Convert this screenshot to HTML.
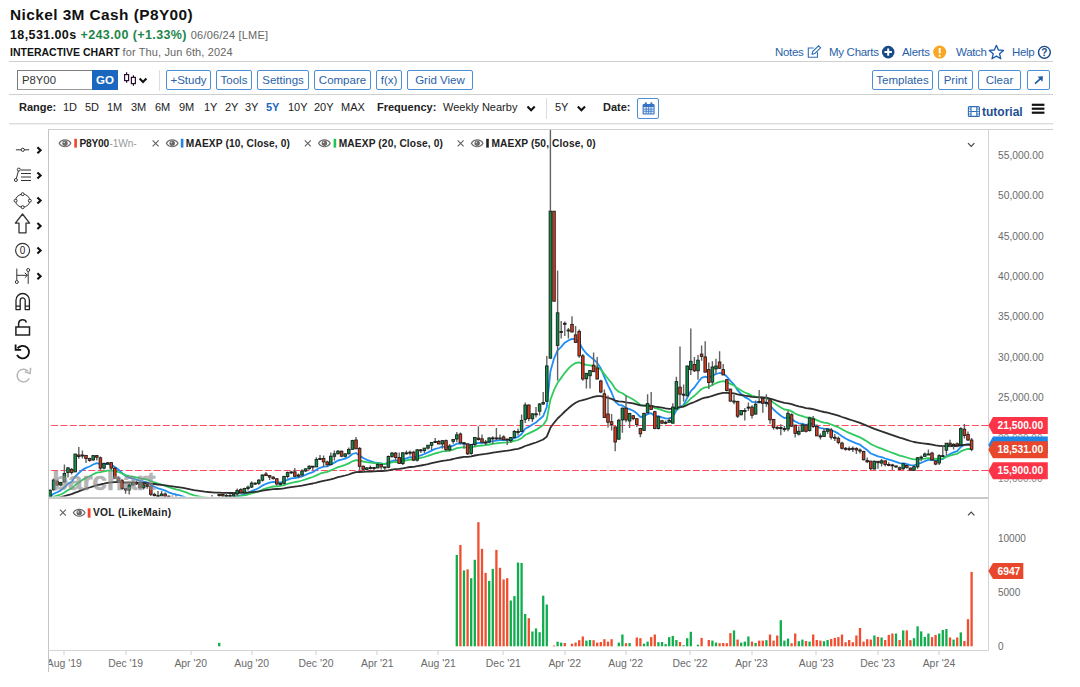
<!DOCTYPE html>
<html>
<head>
<meta charset="utf-8">
<title>Nickel 3M Cash (P8Y00)</title>
<style>
html,body{margin:0;padding:0;background:#fff;}
body{width:1080px;height:687px;position:relative;overflow:hidden;font-family:"Liberation Sans",sans-serif;color:#222;}
.abs{position:absolute;white-space:nowrap;}
.hr{position:absolute;left:9px;width:1044px;height:1px;background:#d0d0d0;}
.btn{position:absolute;top:70px;height:18px;line-height:19px;border:1px solid #4d8fd6;border-radius:2px;color:#2a62a8;font-size:11.5px;text-align:center;box-sizing:content-box;background:#fff;}
.rng{position:absolute;top:100px;font-size:11px;color:#222;line-height:14px;}
.lnk{position:absolute;top:45px;letter-spacing:-0.3px;font-size:11.5px;color:#2a62a8;line-height:14px;}
</style>
</head>
<body>
<!-- HEADER -->
<div class="abs" style="left:10px;top:6px;font-size:15.4px;font-weight:bold;line-height:18px;color:#111;letter-spacing:0.43px;">Nickel 3M Cash (P8Y00)</div>
<div class="abs" style="left:10px;top:27.5px;font-size:12.5px;font-weight:bold;line-height:14px;color:#111;letter-spacing:0.4px;">18,531.00s <span style="color:#1d8649;">+243.00 (+1.33%)</span> <span style="font-weight:normal;font-size:11px;color:#666;letter-spacing:0.2px;">06/06/24 [LME]</span></div>
<div class="abs" style="left:10px;top:45px;font-size:10.5px;font-weight:bold;line-height:14px;color:#111;">INTERACTIVE CHART <span style="font-weight:normal;color:#666;font-size:11px;letter-spacing:0.12px;">for Thu, Jun 6th, 2024</span></div>

<div class="hr" style="top:61px;"></div>
<div class="hr" style="top:94px;"></div>
<div class="hr" style="top:123px;height:1px;background:#dcdcdc;"></div><div class="hr" style="top:124px;height:1px;background:#f1f1f1;"></div>

<!-- symbol box -->
<div class="abs" style="left:17px;top:70px;width:75px;height:18px;border:1px solid #9a9a9a;border-top-color:#7d7d7d;border-left-color:#7d7d7d;box-sizing:content-box;background:#fff;"></div>
<div class="abs" style="left:22px;top:73.3px;font-size:11.3px;line-height:15px;color:#333;">P8Y00</div>
<div class="abs" style="left:92px;top:70px;width:26px;height:20px;background:#1b66bf;color:#fff;font-weight:bold;font-size:11.5px;line-height:20px;text-align:center;">GO</div>

<!-- buttons -->
<div class="btn" style="left:166px;width:43px;">+Study</div>
<div class="btn" style="left:216px;width:34px;">Tools</div>
<div class="btn" style="left:257px;width:50px;">Settings</div>
<div class="btn" style="left:314px;width:55px;">Compare</div>
<div class="btn" style="left:376px;width:24px;">f(x)</div>
<div class="btn" style="left:407px;width:64px;">Grid View</div>
<div class="btn" style="left:872px;width:59px;">Templates</div>
<div class="btn" style="left:938px;width:33px;">Print</div>
<div class="btn" style="left:978px;width:41px;">Clear</div>
<div class="btn" style="left:1027px;width:21px;"></div>


<!-- range row -->
<div class="rng" style="left:19px;font-weight:bold;">Range:</div>
<div class="rng" style="left:63px;">1D</div>
<div class="rng" style="left:85px;">5D</div>
<div class="rng" style="left:107px;">1M</div>
<div class="rng" style="left:131px;">3M</div>
<div class="rng" style="left:155px;">6M</div>
<div class="rng" style="left:179px;">9M</div>
<div class="rng" style="left:204px;">1Y</div>
<div class="rng" style="left:225px;">2Y</div>
<div class="rng" style="left:245px;">3Y</div>
<div class="rng" style="left:266px;color:#1b66bf;font-weight:bold;">5Y</div>
<div class="rng" style="left:288px;">10Y</div>
<div class="rng" style="left:314px;">20Y</div>
<div class="rng" style="left:341px;">MAX</div>
<div class="rng" style="left:377px;font-weight:bold;">Frequency:</div>
<div class="rng" style="left:443px;">Weekly Nearby</div>
<div class="rng" style="left:555px;">5Y</div>
<div class="rng" style="left:603px;font-weight:bold;">Date:</div>
<div class="abs" style="left:546px;top:98px;width:1px;height:21px;background:#ddd;"></div>
<div class="abs" style="left:159px;top:70px;width:1px;height:21px;background:#ddd;"></div>
<div class="abs" style="left:637px;top:98px;width:20px;height:19px;border:1px solid #4d8fd6;border-radius:2px;"></div>
<div class="abs" style="left:982px;top:105px;font-size:12px;font-weight:bold;color:#1d4f91;line-height:14px;">tutorial</div>

<!-- top-right links -->
<div class="lnk" style="left:775px;">Notes</div>
<div class="lnk" style="left:829px;">My Charts</div>
<div class="lnk" style="left:902px;">Alerts</div>
<div class="lnk" style="left:956px;">Watch</div>
<div class="lnk" style="left:1012px;">Help</div>

<!-- CHARTSVG-START -->
<svg class="abs" style="left:0;top:0;" width="1080" height="687" viewBox="0 0 1080 687" font-family="Liberation Sans, sans-serif">
<defs><clipPath id="cm"><rect x="49" y="130" width="939" height="366.5"/></clipPath><clipPath id="cv"><rect x="49" y="499" width="939" height="151"/></clipPath></defs>
<g shape-rendering="crispEdges">
<rect x="48" y="129" width="1005" height="1" fill="#cfcfcf"/>
<rect x="48" y="129" width="1" height="543" fill="#c4c4c4"/>
<rect x="988" y="129" width="1" height="522" fill="#d4d4d4"/>
<rect x="48" y="496.5" width="940" height="2.5" fill="#c9c9c9"/>
<rect x="48" y="650" width="941" height="1" fill="#d4d4d4"/>
</g>
<g clip-path="url(#cm)">
<line x1="51.2" y1="425.5" x2="988" y2="425.5" stroke="#ff4f5e" stroke-width="1.15" stroke-dasharray="6.9 2.4"/>
<line x1="51.2" y1="470.5" x2="988" y2="470.5" stroke="#ff4f5e" stroke-width="1.15" stroke-dasharray="6.9 2.4"/>
<path d="M50.0 496.9 L53.6 493.8 L57.2 492.2 L60.8 490.4 L64.4 487.3 L68.0 483.8 L71.6 481.7 L75.2 476.7 L78.8 473.0 L82.4 469.9 L86.0 467.9 L89.6 466.5 L93.2 464.5 L96.8 463.2 L100.4 464.1 L104.0 464.0 L107.6 463.8 L111.2 464.5 L114.8 467.0 L118.4 469.5 L122.0 472.9 L125.6 476.0 L129.2 477.7 L132.8 478.5 L136.4 479.5 L140.0 481.0 L143.6 481.7 L147.2 482.5 L150.8 484.7 L154.4 486.7 L158.0 488.4 L161.6 489.4 L165.2 490.6 L168.8 492.3 L172.4 493.7 L176.0 494.5 L179.6 495.4 L183.2 496.5 L186.8 498.0 L190.4 500.0 L194.0 501.3 L197.6 501.8 L201.2 502.0 L204.8 502.0 L208.4 502.0 L212.0 501.8 L215.6 501.3 L219.2 500.1 L222.8 499.3 L226.4 498.6 L230.0 498.1 L233.6 497.4 L237.2 496.1 L240.8 495.4 L244.4 494.2 L248.0 492.9 L251.6 491.1 L255.2 489.7 L258.8 488.0 L262.4 485.6 L266.0 483.8 L269.6 482.6 L273.2 481.9 L276.8 482.3 L280.4 482.5 L284.0 481.4 L287.6 479.8 L291.2 478.4 L294.8 478.0 L298.4 477.4 L302.0 476.3 L305.6 474.9 L309.2 473.3 L312.8 472.2 L316.4 469.8 L320.0 467.8 L323.6 466.7 L327.2 466.4 L330.8 464.5 L334.4 462.6 L338.0 460.5 L341.6 459.7 L345.2 458.6 L348.8 457.0 L352.4 454.0 L356.0 453.0 L359.6 455.4 L363.2 458.0 L366.8 459.8 L370.4 461.2 L374.0 462.4 L377.6 462.8 L381.2 463.5 L384.8 464.2 L388.4 462.8 L392.0 461.0 L395.6 460.4 L399.2 461.0 L402.8 459.5 L406.4 458.3 L410.0 457.2 L413.6 457.7 L417.2 456.3 L420.8 455.3 L424.4 454.0 L428.0 452.4 L431.6 450.6 L435.2 448.9 L438.8 448.0 L442.4 446.7 L446.0 447.2 L449.6 447.0 L453.2 445.6 L456.8 443.7 L460.4 443.5 L464.0 443.4 L467.6 445.2 L471.2 445.1 L474.8 443.7 L478.4 443.0 L482.0 442.8 L485.6 442.7 L489.2 441.8 L492.8 441.1 L496.4 440.7 L500.0 440.2 L503.6 440.1 L507.2 440.1 L510.8 439.6 L514.4 438.1 L518.0 437.0 L521.6 434.0 L525.2 428.7 L528.8 426.9 L532.4 424.5 L536.0 422.5 L539.6 419.2 L543.2 416.1 L546.8 407.0 L550.4 371.4 L554.0 358.6 L557.6 350.3 L561.2 346.9 L564.8 342.7 L568.4 340.4 L572.0 338.9 L575.6 339.5 L579.2 342.5 L582.8 349.1 L586.4 353.5 L590.0 356.6 L593.6 359.4 L597.2 362.9 L600.8 368.2 L604.4 377.2 L608.0 385.4 L611.6 392.5 L615.2 401.5 L618.8 404.9 L622.4 405.5 L626.0 408.1 L629.6 409.1 L633.2 410.8 L636.8 413.3 L640.4 417.0 L644.0 416.4 L647.6 414.1 L651.2 413.2 L654.8 416.0 L658.4 416.1 L662.0 417.4 L665.6 418.3 L669.2 418.7 L672.8 416.6 L676.4 410.2 L680.0 407.3 L683.6 404.9 L687.2 397.8 L690.8 391.2 L694.4 387.5 L698.0 382.5 L701.6 377.8 L705.2 376.7 L708.8 377.8 L712.4 375.8 L716.0 374.0 L719.6 373.0 L723.2 373.3 L726.8 376.5 L730.4 380.9 L734.0 384.6 L737.6 390.3 L741.2 394.0 L744.8 397.1 L748.4 398.9 L752.0 401.9 L755.6 402.3 L759.2 402.2 L762.8 402.4 L766.4 402.4 L770.0 405.5 L773.6 409.5 L777.2 412.8 L780.8 415.7 L784.4 418.1 L788.0 417.2 L791.6 418.9 L795.2 421.5 L798.8 423.3 L802.4 423.6 L806.0 425.0 L809.6 423.7 L813.2 424.2 L816.8 426.3 L820.4 428.1 L824.0 428.7 L827.6 428.8 L831.2 430.3 L834.8 431.6 L838.4 433.6 L842.0 436.3 L845.6 438.5 L849.2 440.4 L852.8 441.8 L856.4 443.3 L860.0 444.7 L863.6 447.5 L867.2 450.1 L870.8 453.5 L874.4 454.9 L878.0 456.3 L881.6 457.1 L885.2 458.5 L888.8 459.6 L892.4 460.7 L896.0 461.8 L899.6 463.2 L903.2 463.3 L906.8 464.0 L910.4 465.1 L914.0 465.4 L917.6 464.0 L921.2 462.8 L924.8 461.2 L928.4 459.9 L932.0 459.9 L935.6 460.7 L939.2 459.7 L942.8 459.1 L946.4 456.2 L950.0 454.1 L953.6 452.3 L957.2 451.1 L960.8 447.0 L964.4 444.9 L968.0 444.0 L971.6 445.0" fill="none" stroke="#1f8ef5" stroke-width="1.8" stroke-linejoin="round"/>
<path d="M50.0 498.6 L53.6 496.9 L57.2 495.7 L60.8 494.5 L64.4 492.5 L68.0 490.1 L71.6 488.4 L75.2 485.2 L78.8 482.4 L82.4 479.9 L86.0 477.9 L89.6 476.2 L93.2 474.3 L96.8 472.6 L100.4 472.2 L104.0 471.4 L107.6 470.6 L111.2 470.3 L114.8 471.1 L118.4 472.0 L122.0 473.5 L125.6 475.1 L129.2 476.1 L132.8 476.7 L136.4 477.4 L140.0 478.4 L143.6 479.0 L147.2 479.7 L150.8 481.1 L154.4 482.4 L158.0 483.7 L161.6 484.7 L165.2 485.8 L168.8 487.1 L172.4 488.3 L176.0 489.3 L179.6 490.2 L183.2 491.3 L186.8 492.6 L190.4 494.2 L194.0 495.4 L197.6 496.2 L201.2 496.9 L204.8 497.3 L208.4 497.8 L212.0 498.1 L215.6 498.2 L219.2 497.8 L222.8 497.6 L226.4 497.4 L230.0 497.3 L233.6 497.0 L237.2 496.4 L240.8 496.0 L244.4 495.3 L248.0 494.5 L251.6 493.4 L255.2 492.4 L258.8 491.3 L262.4 489.7 L266.0 488.4 L269.6 487.3 L273.2 486.5 L276.8 486.3 L280.4 486.0 L284.0 485.1 L287.6 483.9 L291.2 482.8 L294.8 482.1 L298.4 481.5 L302.0 480.5 L305.6 479.3 L309.2 478.1 L312.8 477.0 L316.4 475.4 L320.0 473.7 L323.6 472.6 L327.2 471.9 L330.8 470.4 L334.4 468.8 L338.0 467.1 L341.6 466.1 L345.2 464.9 L348.8 463.4 L352.4 461.3 L356.0 460.1 L359.6 460.7 L363.2 461.5 L366.8 462.1 L370.4 462.6 L374.0 463.1 L377.6 463.2 L381.2 463.6 L384.8 463.9 L388.4 463.2 L392.0 462.3 L395.6 461.8 L399.2 462.0 L402.8 461.1 L406.4 460.3 L410.0 459.6 L413.6 459.6 L417.2 458.7 L420.8 457.9 L424.4 457.0 L428.0 455.9 L431.6 454.6 L435.2 453.3 L438.8 452.5 L442.4 451.3 L446.0 451.2 L449.6 450.7 L453.2 449.6 L456.8 448.2 L460.4 447.7 L464.0 447.2 L467.6 447.8 L471.2 447.5 L474.8 446.5 L478.4 445.9 L482.0 445.5 L485.6 445.2 L489.2 444.5 L492.8 443.9 L496.4 443.4 L500.0 442.9 L503.6 442.6 L507.2 442.3 L510.8 441.9 L514.4 440.9 L518.0 440.0 L521.6 438.2 L525.2 435.0 L528.8 433.4 L532.4 431.6 L536.0 429.9 L539.6 427.4 L543.2 425.0 L546.8 419.4 L550.4 399.6 L554.0 390.2 L557.6 382.8 L561.2 377.9 L564.8 372.8 L568.4 368.7 L572.0 365.2 L575.6 363.0 L579.2 362.4 L582.8 364.0 L586.4 364.8 L590.0 365.4 L593.6 366.0 L597.2 367.2 L600.8 369.6 L604.4 374.1 L608.0 378.7 L611.6 383.1 L615.2 388.7 L618.8 391.7 L622.4 393.3 L626.0 395.8 L629.6 397.5 L633.2 399.5 L636.8 401.9 L640.4 404.9 L644.0 405.7 L647.6 405.5 L651.2 405.9 L654.8 408.1 L658.4 408.9 L662.0 410.2 L665.6 411.4 L669.2 412.3 L672.8 411.8 L676.4 408.9 L680.0 407.5 L683.6 406.2 L687.2 402.4 L690.8 398.5 L694.4 395.8 L698.0 392.4 L701.6 389.0 L705.2 387.4 L708.8 386.9 L712.4 385.0 L716.0 383.2 L719.6 381.8 L723.2 381.1 L726.8 382.0 L730.4 383.9 L734.0 385.5 L737.6 388.4 L741.2 390.5 L744.8 392.5 L748.4 393.9 L752.0 395.9 L755.6 396.7 L759.2 397.1 L762.8 397.7 L766.4 398.2 L770.0 400.2 L773.6 402.8 L777.2 405.2 L780.8 407.4 L784.4 409.5 L788.0 409.8 L791.6 411.4 L795.2 413.5 L798.8 415.2 L802.4 416.1 L806.0 417.5 L809.6 417.6 L813.2 418.4 L816.8 420.1 L820.4 421.6 L824.0 422.6 L827.6 423.2 L831.2 424.5 L834.8 425.8 L838.4 427.3 L842.0 429.3 L845.6 431.2 L849.2 432.9 L852.8 434.3 L856.4 435.8 L860.0 437.3 L863.6 439.4 L867.2 441.5 L870.8 444.1 L874.4 445.8 L878.0 447.4 L881.6 448.7 L885.2 450.2 L888.8 451.5 L892.4 452.9 L896.0 454.2 L899.6 455.7 L903.2 456.4 L906.8 457.5 L910.4 458.7 L914.0 459.4 L917.6 459.3 L921.2 459.1 L924.8 458.6 L928.4 458.1 L932.0 458.3 L935.6 458.9 L939.2 458.6 L942.8 458.3 L946.4 456.9 L950.0 455.7 L953.6 454.6 L957.2 453.8 L960.8 451.4 L964.4 449.9 L968.0 448.9 L971.6 449.0" fill="none" stroke="#2fcb60" stroke-width="1.8" stroke-linejoin="round"/>
<path d="M50.0 499.0 L53.6 498.3 L57.2 497.8 L60.8 497.2 L64.4 496.2 L68.0 495.1 L71.6 494.2 L75.2 492.7 L78.8 491.3 L82.4 489.9 L86.0 488.6 L89.6 487.5 L93.2 486.3 L96.8 485.1 L100.4 484.5 L104.0 483.7 L107.6 482.8 L111.2 482.3 L114.8 482.1 L118.4 482.0 L122.0 482.3 L125.6 482.6 L129.2 482.7 L132.8 482.7 L136.4 482.7 L140.0 482.9 L143.6 483.0 L147.2 483.1 L150.8 483.6 L154.4 484.0 L158.0 484.5 L161.6 484.9 L165.2 485.3 L168.8 485.9 L172.4 486.4 L176.0 486.9 L179.6 487.4 L183.2 487.9 L186.8 488.6 L190.4 489.4 L194.0 490.1 L197.6 490.6 L201.2 491.1 L204.8 491.6 L208.4 492.0 L212.0 492.3 L215.6 492.6 L219.2 492.6 L222.8 492.8 L226.4 492.9 L230.0 493.0 L233.6 493.0 L237.2 492.9 L240.8 492.9 L244.4 492.7 L248.0 492.5 L251.6 492.2 L255.2 491.8 L258.8 491.4 L262.4 490.7 L266.0 490.1 L269.6 489.6 L273.2 489.2 L276.8 489.0 L280.4 488.8 L284.0 488.3 L287.6 487.7 L291.2 487.1 L294.8 486.6 L298.4 486.2 L302.0 485.6 L305.6 484.9 L309.2 484.2 L312.8 483.5 L316.4 482.6 L320.0 481.6 L323.6 480.8 L327.2 480.2 L330.8 479.3 L334.4 478.3 L338.0 477.2 L341.6 476.4 L345.2 475.5 L348.8 474.5 L352.4 473.2 L356.0 472.2 L359.6 472.0 L363.2 471.9 L366.8 471.7 L370.4 471.5 L374.0 471.4 L377.6 471.1 L381.2 471.0 L384.8 470.8 L388.4 470.3 L392.0 469.6 L395.6 469.1 L399.2 468.9 L402.8 468.3 L406.4 467.7 L410.0 467.0 L413.6 466.8 L417.2 466.1 L420.8 465.5 L424.4 464.8 L428.0 464.1 L431.6 463.2 L435.2 462.4 L438.8 461.6 L442.4 460.8 L446.0 460.4 L449.6 459.8 L453.2 459.0 L456.8 458.1 L460.4 457.5 L464.0 456.9 L467.6 456.8 L471.2 456.3 L474.8 455.5 L478.4 454.9 L482.0 454.4 L485.6 453.9 L489.2 453.3 L492.8 452.7 L496.4 452.2 L500.0 451.6 L503.6 451.1 L507.2 450.7 L510.8 450.2 L514.4 449.4 L518.0 448.8 L521.6 447.6 L525.2 446.0 L528.8 444.9 L532.4 443.7 L536.0 442.5 L539.6 441.0 L543.2 439.5 L546.8 436.6 L550.4 427.8 L554.0 422.8 L557.6 418.5 L561.2 415.1 L564.8 411.5 L568.4 408.3 L572.0 405.3 L575.6 402.8 L579.2 401.0 L582.8 400.1 L586.4 399.1 L590.0 398.0 L593.6 396.9 L597.2 396.2 L600.8 396.1 L604.4 396.9 L608.0 397.9 L611.6 398.9 L615.2 400.6 L618.8 401.4 L622.4 401.7 L626.0 402.4 L629.6 402.8 L633.2 403.4 L636.8 404.3 L640.4 405.4 L644.0 405.7 L647.6 405.7 L651.2 405.8 L654.8 406.7 L658.4 407.1 L662.0 407.7 L665.6 408.3 L669.2 408.8 L672.8 408.7 L676.4 407.6 L680.0 407.1 L683.6 406.6 L687.2 405.0 L690.8 403.3 L694.4 402.0 L698.0 400.4 L701.6 398.7 L705.2 397.6 L708.8 397.0 L712.4 395.8 L716.0 394.7 L719.6 393.6 L723.2 392.9 L726.8 392.8 L730.4 393.1 L734.0 393.4 L737.6 394.3 L741.2 395.0 L744.8 395.6 L748.4 396.1 L752.0 396.8 L755.6 397.1 L759.2 397.3 L762.8 397.5 L766.4 397.7 L770.0 398.6 L773.6 399.7 L777.2 400.8 L780.8 401.9 L784.4 402.9 L788.0 403.3 L791.6 404.2 L795.2 405.4 L798.8 406.4 L802.4 407.1 L806.0 408.1 L809.6 408.5 L813.2 409.2 L816.8 410.2 L820.4 411.2 L824.0 412.0 L827.6 412.7 L831.2 413.7 L834.8 414.6 L838.4 415.7 L842.0 417.0 L845.6 418.2 L849.2 419.4 L852.8 420.5 L856.4 421.7 L860.0 422.8 L863.6 424.3 L867.2 425.8 L870.8 427.4 L874.4 428.8 L878.0 430.1 L881.6 431.3 L885.2 432.6 L888.8 433.9 L892.4 435.1 L896.0 436.4 L899.6 437.7 L903.2 438.7 L906.8 439.8 L910.4 441.0 L914.0 442.0 L917.6 442.6 L921.2 443.2 L924.8 443.6 L928.4 444.0 L932.0 444.6 L935.6 445.4 L939.2 445.8 L942.8 446.2 L946.4 446.1 L950.0 446.0 L953.6 446.0 L957.2 446.0 L960.8 445.3 L964.4 444.9 L968.0 444.7 L971.6 444.9" fill="none" stroke="#2e2e2e" stroke-width="1.8" stroke-linejoin="round"/>
<g stroke="#626262" stroke-width="1.4"><line x1="50.0" y1="489.3" x2="50.0" y2="498.3"/><line x1="53.6" y1="478.4" x2="53.6" y2="490.5"/><line x1="57.2" y1="479.8" x2="57.2" y2="486.1"/><line x1="60.8" y1="481.8" x2="60.8" y2="486.4"/><line x1="64.4" y1="464.4" x2="64.4" y2="482.5"/><line x1="68.0" y1="466.9" x2="68.0" y2="477.5"/><line x1="71.6" y1="468.0" x2="71.6" y2="474.4"/><line x1="75.2" y1="453.7" x2="75.2" y2="472.0"/><line x1="78.8" y1="446.9" x2="78.8" y2="458.8"/><line x1="82.4" y1="450.6" x2="82.4" y2="458.5"/><line x1="86.0" y1="455.0" x2="86.0" y2="463.0"/><line x1="89.6" y1="457.8" x2="89.6" y2="461.7"/><line x1="93.2" y1="454.9" x2="93.2" y2="460.7"/><line x1="96.8" y1="455.0" x2="96.8" y2="460.6"/><line x1="100.4" y1="456.6" x2="100.4" y2="469.9"/><line x1="104.0" y1="462.5" x2="104.0" y2="469.4"/><line x1="107.6" y1="461.9" x2="107.6" y2="465.0"/><line x1="111.2" y1="462.6" x2="111.2" y2="470.0"/><line x1="114.8" y1="467.3" x2="114.8" y2="479.0"/><line x1="118.4" y1="476.6" x2="118.4" y2="482.6"/><line x1="122.0" y1="479.1" x2="122.0" y2="489.7"/><line x1="125.6" y1="488.0" x2="125.6" y2="493.8"/><line x1="129.2" y1="483.8" x2="129.2" y2="494.4"/><line x1="132.8" y1="480.4" x2="132.8" y2="485.7"/><line x1="136.4" y1="480.6" x2="136.4" y2="485.0"/><line x1="140.0" y1="483.2" x2="140.0" y2="488.5"/><line x1="143.6" y1="483.7" x2="143.6" y2="489.6"/><line x1="147.2" y1="483.0" x2="147.2" y2="488.8"/><line x1="150.8" y1="485.4" x2="150.8" y2="495.9"/><line x1="154.4" y1="492.8" x2="154.4" y2="496.8"/><line x1="158.0" y1="491.0" x2="158.0" y2="497.0"/><line x1="161.6" y1="491.0" x2="161.6" y2="496.0"/><line x1="165.2" y1="492.6" x2="165.2" y2="496.9"/><line x1="168.8" y1="495.6" x2="168.8" y2="500.4"/><line x1="172.4" y1="495.6" x2="172.4" y2="502.0"/><line x1="176.0" y1="495.2" x2="176.0" y2="501.0"/><line x1="179.6" y1="496.9" x2="179.6" y2="500.2"/><line x1="183.2" y1="497.9" x2="183.2" y2="503.0"/><line x1="186.8" y1="500.2" x2="186.8" y2="506.0"/><line x1="190.4" y1="503.2" x2="190.4" y2="510.6"/><line x1="194.0" y1="506.0" x2="194.0" y2="510.5"/><line x1="197.6" y1="502.6" x2="197.6" y2="508.9"/><line x1="201.2" y1="501.3" x2="201.2" y2="505.0"/><line x1="204.8" y1="499.9" x2="204.8" y2="503.8"/><line x1="208.4" y1="500.8" x2="208.4" y2="503.7"/><line x1="212.0" y1="495.0" x2="212.0" y2="503.0"/><line x1="215.6" y1="498.2" x2="215.6" y2="502.3"/><line x1="219.2" y1="493.7" x2="219.2" y2="497.2"/><line x1="222.8" y1="492.7" x2="222.8" y2="497.5"/><line x1="226.4" y1="493.6" x2="226.4" y2="497.1"/><line x1="230.0" y1="493.9" x2="230.0" y2="497.5"/><line x1="233.6" y1="492.5" x2="233.6" y2="497.3"/><line x1="237.2" y1="488.5" x2="237.2" y2="496.0"/><line x1="240.8" y1="488.3" x2="240.8" y2="493.8"/><line x1="244.4" y1="487.8" x2="244.4" y2="494.4"/><line x1="248.0" y1="485.5" x2="248.0" y2="490.6"/><line x1="251.6" y1="481.3" x2="251.6" y2="488.1"/><line x1="255.2" y1="482.5" x2="255.2" y2="485.0"/><line x1="258.8" y1="479.1" x2="258.8" y2="485.0"/><line x1="262.4" y1="474.4" x2="262.4" y2="481.5"/><line x1="266.0" y1="471.9" x2="266.0" y2="476.0"/><line x1="269.6" y1="475.0" x2="269.6" y2="480.0"/><line x1="273.2" y1="476.2" x2="273.2" y2="479.5"/><line x1="276.8" y1="478.1" x2="276.8" y2="485.8"/><line x1="280.4" y1="481.9" x2="280.4" y2="485.6"/><line x1="284.0" y1="475.7" x2="284.0" y2="484.5"/><line x1="287.6" y1="471.4" x2="287.6" y2="478.4"/><line x1="291.2" y1="471.2" x2="291.2" y2="473.9"/><line x1="294.8" y1="468.1" x2="294.8" y2="477.0"/><line x1="298.4" y1="473.6" x2="298.4" y2="478.2"/><line x1="302.0" y1="469.2" x2="302.0" y2="476.9"/><line x1="305.6" y1="468.5" x2="305.6" y2="471.9"/><line x1="309.2" y1="465.2" x2="309.2" y2="470.0"/><line x1="312.8" y1="466.0" x2="312.8" y2="470.0"/><line x1="316.4" y1="457.2" x2="316.4" y2="467.0"/><line x1="320.0" y1="455.0" x2="320.0" y2="460.0"/><line x1="323.6" y1="455.6" x2="323.6" y2="466.9"/><line x1="327.2" y1="460.8" x2="327.2" y2="466.7"/><line x1="330.8" y1="452.5" x2="330.8" y2="465.0"/><line x1="334.4" y1="450.6" x2="334.4" y2="460.6"/><line x1="338.0" y1="450.0" x2="338.0" y2="454.4"/><line x1="341.6" y1="450.6" x2="341.6" y2="457.2"/><line x1="345.2" y1="453.5" x2="345.2" y2="457.8"/><line x1="348.8" y1="447.4" x2="348.8" y2="454.6"/><line x1="352.4" y1="439.8" x2="352.4" y2="449.4"/><line x1="356.0" y1="437.1" x2="356.0" y2="449.0"/><line x1="359.6" y1="446.9" x2="359.6" y2="470.2"/><line x1="363.2" y1="465.5" x2="363.2" y2="472.2"/><line x1="366.8" y1="467.5" x2="366.8" y2="470.2"/><line x1="370.4" y1="465.6" x2="370.4" y2="469.4"/><line x1="374.0" y1="466.9" x2="374.0" y2="470.2"/><line x1="377.6" y1="463.1" x2="377.6" y2="468.0"/><line x1="381.2" y1="464.2" x2="381.2" y2="469.4"/><line x1="384.8" y1="466.9" x2="384.8" y2="470.6"/><line x1="388.4" y1="455.6" x2="388.4" y2="468.2"/><line x1="392.0" y1="452.1" x2="392.0" y2="457.8"/><line x1="395.6" y1="451.9" x2="395.6" y2="460.6"/><line x1="399.2" y1="452.5" x2="399.2" y2="464.0"/><line x1="402.8" y1="452.5" x2="402.8" y2="465.0"/><line x1="406.4" y1="450.6" x2="406.4" y2="454.8"/><line x1="410.0" y1="450.6" x2="410.0" y2="455.6"/><line x1="413.6" y1="450.8" x2="413.6" y2="461.2"/><line x1="417.2" y1="449.2" x2="417.2" y2="461.4"/><line x1="420.8" y1="449.0" x2="420.8" y2="453.1"/><line x1="424.4" y1="448.0" x2="424.4" y2="453.1"/><line x1="428.0" y1="445.0" x2="428.0" y2="449.4"/><line x1="431.6" y1="442.4" x2="431.6" y2="450.0"/><line x1="435.2" y1="438.1" x2="435.2" y2="443.1"/><line x1="438.8" y1="440.0" x2="438.8" y2="444.2"/><line x1="442.4" y1="440.4" x2="442.4" y2="448.8"/><line x1="446.0" y1="439.4" x2="446.0" y2="451.2"/><line x1="449.6" y1="444.0" x2="449.6" y2="451.4"/><line x1="453.2" y1="439.2" x2="453.2" y2="443.8"/><line x1="456.8" y1="432.1" x2="456.8" y2="441.9"/><line x1="460.4" y1="432.6" x2="460.4" y2="444.3"/><line x1="464.0" y1="441.9" x2="464.0" y2="448.8"/><line x1="467.6" y1="443.5" x2="467.6" y2="455.0"/><line x1="471.2" y1="444.2" x2="471.2" y2="454.8"/><line x1="474.8" y1="437.3" x2="474.8" y2="446.5"/><line x1="478.4" y1="426.2" x2="478.4" y2="440.6"/><line x1="482.0" y1="434.4" x2="482.0" y2="443.5"/><line x1="485.6" y1="440.0" x2="485.6" y2="445.0"/><line x1="489.2" y1="437.5" x2="489.2" y2="443.1"/><line x1="492.8" y1="436.2" x2="492.8" y2="444.0"/><line x1="496.4" y1="428.1" x2="496.4" y2="440.0"/><line x1="500.0" y1="434.4" x2="500.0" y2="438.8"/><line x1="503.6" y1="435.2" x2="503.6" y2="440.0"/><line x1="507.2" y1="438.8" x2="507.2" y2="445.0"/><line x1="510.8" y1="437.3" x2="510.8" y2="443.1"/><line x1="514.4" y1="429.9" x2="514.4" y2="438.2"/><line x1="518.0" y1="428.5" x2="518.0" y2="435.6"/><line x1="521.6" y1="414.4" x2="521.6" y2="431.6"/><line x1="525.2" y1="402.5" x2="525.2" y2="423.1"/><line x1="528.8" y1="404.5" x2="528.8" y2="421.2"/><line x1="532.4" y1="413.1" x2="532.4" y2="421.9"/><line x1="536.0" y1="406.9" x2="536.0" y2="417.5"/><line x1="539.6" y1="403.1" x2="539.6" y2="415.6"/><line x1="543.2" y1="392.0" x2="543.2" y2="405.0"/><line x1="546.8" y1="355.9" x2="546.8" y2="402.0"/><line x1="550.4" y1="100.0" x2="550.4" y2="358.5"/><line x1="554.0" y1="211.2" x2="554.0" y2="301.5"/><line x1="557.6" y1="270.4" x2="557.6" y2="380.5"/><line x1="561.2" y1="321.0" x2="561.2" y2="338.4"/><line x1="564.8" y1="321.4" x2="564.8" y2="336.0"/><line x1="568.4" y1="328.0" x2="568.4" y2="338.4"/><line x1="572.0" y1="316.3" x2="572.0" y2="332.5"/><line x1="575.6" y1="326.0" x2="575.6" y2="343.0"/><line x1="579.2" y1="329.5" x2="579.2" y2="357.7"/><line x1="582.8" y1="354.0" x2="582.8" y2="380.8"/><line x1="586.4" y1="373.0" x2="586.4" y2="388.5"/><line x1="590.0" y1="370.0" x2="590.0" y2="388.5"/><line x1="593.6" y1="352.4" x2="593.6" y2="372.0"/><line x1="597.2" y1="357.0" x2="597.2" y2="379.5"/><line x1="600.8" y1="379.8" x2="600.8" y2="393.2"/><line x1="604.4" y1="389.6" x2="604.4" y2="418.0"/><line x1="608.0" y1="395.5" x2="608.0" y2="427.5"/><line x1="611.6" y1="414.0" x2="611.6" y2="430.4"/><line x1="615.2" y1="426.5" x2="615.2" y2="451.3"/><line x1="618.8" y1="418.7" x2="618.8" y2="439.5"/><line x1="622.4" y1="407.5" x2="622.4" y2="432.7"/><line x1="626.0" y1="395.4" x2="626.0" y2="422.2"/><line x1="629.6" y1="413.0" x2="629.6" y2="428.0"/><line x1="633.2" y1="414.9" x2="633.2" y2="420.3"/><line x1="636.8" y1="418.3" x2="636.8" y2="426.9"/><line x1="640.4" y1="428.0" x2="640.4" y2="437.3"/><line x1="644.0" y1="412.7" x2="644.0" y2="431.1"/><line x1="647.6" y1="394.3" x2="647.6" y2="413.2"/><line x1="651.2" y1="392.0" x2="651.2" y2="409.8"/><line x1="654.8" y1="410.8" x2="654.8" y2="429.3"/><line x1="658.4" y1="416.0" x2="658.4" y2="429.5"/><line x1="662.0" y1="419.7" x2="662.0" y2="423.9"/><line x1="665.6" y1="420.4" x2="665.6" y2="424.2"/><line x1="669.2" y1="417.5" x2="669.2" y2="422.3"/><line x1="672.8" y1="403.3" x2="672.8" y2="423.5"/><line x1="676.4" y1="376.8" x2="676.4" y2="409.2"/><line x1="680.0" y1="346.5" x2="680.0" y2="406.2"/><line x1="683.6" y1="384.4" x2="683.6" y2="401.4"/><line x1="687.2" y1="365.4" x2="687.2" y2="396.6"/><line x1="690.8" y1="328.5" x2="690.8" y2="375.0"/><line x1="694.4" y1="357.0" x2="694.4" y2="372.1"/><line x1="698.0" y1="355.0" x2="698.0" y2="379.7"/><line x1="701.6" y1="345.6" x2="701.6" y2="360.7"/><line x1="705.2" y1="341.2" x2="705.2" y2="372.5"/><line x1="708.8" y1="362.6" x2="708.8" y2="389.1"/><line x1="712.4" y1="361.3" x2="712.4" y2="385.3"/><line x1="716.0" y1="358.8" x2="716.0" y2="374.0"/><line x1="719.6" y1="351.3" x2="719.6" y2="368.7"/><line x1="723.2" y1="364.0" x2="723.2" y2="375.3"/><line x1="726.8" y1="378.9" x2="726.8" y2="391.6"/><line x1="730.4" y1="388.8" x2="730.4" y2="401.8"/><line x1="734.0" y1="394.8" x2="734.0" y2="404.3"/><line x1="737.6" y1="400.8" x2="737.6" y2="418.1"/><line x1="741.2" y1="410.0" x2="741.2" y2="415.6"/><line x1="744.8" y1="408.1" x2="744.8" y2="420.4"/><line x1="748.4" y1="402.4" x2="748.4" y2="410.9"/><line x1="752.0" y1="405.2" x2="752.0" y2="418.5"/><line x1="755.6" y1="400.5" x2="755.6" y2="414.4"/><line x1="759.2" y1="390.1" x2="759.2" y2="403.3"/><line x1="762.8" y1="397.7" x2="762.8" y2="412.8"/><line x1="766.4" y1="394.2" x2="766.4" y2="406.7"/><line x1="770.0" y1="399.5" x2="770.0" y2="423.8"/><line x1="773.6" y1="419.0" x2="773.6" y2="429.8"/><line x1="777.2" y1="425.7" x2="777.2" y2="429.8"/><line x1="780.8" y1="424.2" x2="780.8" y2="435.2"/><line x1="784.4" y1="426.1" x2="784.4" y2="431.7"/><line x1="788.0" y1="410.6" x2="788.0" y2="431.3"/><line x1="791.6" y1="413.2" x2="791.6" y2="427.0"/><line x1="795.2" y1="425.0" x2="795.2" y2="437.6"/><line x1="798.8" y1="426.5" x2="798.8" y2="435.5"/><line x1="802.4" y1="423.7" x2="802.4" y2="431.5"/><line x1="806.0" y1="424.1" x2="806.0" y2="432.4"/><line x1="809.6" y1="416.8" x2="809.6" y2="431.4"/><line x1="813.2" y1="416.1" x2="813.2" y2="427.9"/><line x1="816.8" y1="424.4" x2="816.8" y2="436.0"/><line x1="820.4" y1="433.4" x2="820.4" y2="439.6"/><line x1="824.0" y1="427.9" x2="824.0" y2="436.6"/><line x1="827.6" y1="428.8" x2="827.6" y2="434.1"/><line x1="831.2" y1="428.1" x2="831.2" y2="439.4"/><line x1="834.8" y1="434.1" x2="834.8" y2="441.0"/><line x1="838.4" y1="436.5" x2="838.4" y2="444.2"/><line x1="842.0" y1="441.8" x2="842.0" y2="449.6"/><line x1="845.6" y1="447.0" x2="845.6" y2="450.7"/><line x1="849.2" y1="446.5" x2="849.2" y2="451.1"/><line x1="852.8" y1="446.5" x2="852.8" y2="452.1"/><line x1="856.4" y1="447.2" x2="856.4" y2="453.9"/><line x1="860.0" y1="448.6" x2="860.0" y2="453.5"/><line x1="863.6" y1="450.7" x2="863.6" y2="460.5"/><line x1="867.2" y1="457.6" x2="867.2" y2="463.1"/><line x1="870.8" y1="461.0" x2="870.8" y2="470.1"/><line x1="874.4" y1="460.4" x2="874.4" y2="469.6"/><line x1="878.0" y1="461.3" x2="878.0" y2="468.7"/><line x1="881.6" y1="459.0" x2="881.6" y2="466.6"/><line x1="885.2" y1="460.8" x2="885.2" y2="466.6"/><line x1="888.8" y1="462.2" x2="888.8" y2="466.3"/><line x1="892.4" y1="463.8" x2="892.4" y2="470.1"/><line x1="896.0" y1="465.9" x2="896.0" y2="468.0"/><line x1="899.6" y1="466.6" x2="899.6" y2="469.6"/><line x1="903.2" y1="463.1" x2="903.2" y2="470.1"/><line x1="906.8" y1="464.4" x2="906.8" y2="468.4"/><line x1="910.4" y1="467.7" x2="910.4" y2="470.5"/><line x1="914.0" y1="464.9" x2="914.0" y2="471.1"/><line x1="917.6" y1="457.1" x2="917.6" y2="468.8"/><line x1="921.2" y1="455.4" x2="921.2" y2="461.2"/><line x1="924.8" y1="452.6" x2="924.8" y2="457.1"/><line x1="928.4" y1="449.6" x2="928.4" y2="454.8"/><line x1="932.0" y1="451.7" x2="932.0" y2="460.6"/><line x1="935.6" y1="460.8" x2="935.6" y2="465.3"/><line x1="939.2" y1="454.2" x2="939.2" y2="465.1"/><line x1="942.8" y1="446.1" x2="942.8" y2="457.1"/><line x1="946.4" y1="443.0" x2="946.4" y2="455.4"/><line x1="950.0" y1="439.7" x2="950.0" y2="447.3"/><line x1="953.6" y1="443.2" x2="953.6" y2="449.6"/><line x1="957.2" y1="442.6" x2="957.2" y2="447.3"/><line x1="960.8" y1="427.2" x2="960.8" y2="445.0"/><line x1="964.4" y1="424.0" x2="964.4" y2="438.5"/><line x1="968.0" y1="431.5" x2="968.0" y2="440.9"/><line x1="971.6" y1="438.0" x2="971.6" y2="451.3"/></g>
<g stroke="#151515" stroke-width="0.9" stroke-opacity="0.92"><rect x="48.70" y="490.4" width="2.6" height="7.1" fill="#0d9045"/><rect x="52.30" y="480.0" width="2.6" height="9.8" fill="#0d9045"/><rect x="55.90" y="481.2" width="2.6" height="3.8" fill="#d53c1d"/><rect x="59.50" y="482.5" width="2.6" height="2.5" fill="#0d9045"/><rect x="63.10" y="473.4" width="2.6" height="8.5" fill="#0d9045"/><rect x="66.70" y="467.9" width="2.6" height="4.6" fill="#0d9045"/><rect x="70.30" y="469.4" width="2.6" height="3.1" fill="#d53c1d"/><rect x="73.90" y="454.1" width="2.6" height="17.8" fill="#0d9045"/><rect x="77.50" y="455.0" width="2.6" height="1.5" fill="#d53c1d"/><rect x="81.10" y="455.0" width="2.6" height="1.0" fill="#d53c1d"/><rect x="84.70" y="455.4" width="2.6" height="3.1" fill="#d53c1d"/><rect x="88.30" y="458.5" width="2.6" height="1.9" fill="#d53c1d"/><rect x="91.90" y="455.6" width="2.6" height="4.4" fill="#0d9045"/><rect x="95.50" y="455.6" width="2.6" height="1.6" fill="#d53c1d"/><rect x="99.10" y="457.8" width="2.6" height="10.3" fill="#d53c1d"/><rect x="102.70" y="463.5" width="2.6" height="4.6" fill="#0d9045"/><rect x="106.30" y="462.8" width="2.6" height="1.2" fill="#0d9045"/><rect x="109.90" y="462.6" width="2.6" height="5.5" fill="#d53c1d"/><rect x="113.50" y="468.1" width="2.6" height="10.0" fill="#d53c1d"/><rect x="117.10" y="478.1" width="2.6" height="2.5" fill="#d53c1d"/><rect x="120.70" y="480.6" width="2.6" height="7.9" fill="#d53c1d"/><rect x="124.30" y="488.5" width="2.6" height="1.5" fill="#d53c1d"/><rect x="127.90" y="485.0" width="2.6" height="5.0" fill="#0d9045"/><rect x="131.50" y="482.5" width="2.6" height="2.5" fill="#0d9045"/><rect x="135.10" y="482.5" width="2.6" height="1.5" fill="#d53c1d"/><rect x="138.70" y="484.0" width="2.6" height="3.8" fill="#d53c1d"/><rect x="142.30" y="484.8" width="2.6" height="3.0" fill="#0d9045"/><rect x="145.90" y="484.8" width="2.6" height="1.5" fill="#d53c1d"/><rect x="149.50" y="486.2" width="2.6" height="8.1" fill="#d53c1d"/><rect x="153.10" y="494.4" width="2.6" height="1.2" fill="#d53c1d"/><rect x="156.70" y="495.6" width="2.6" height="1.0" fill="#d53c1d"/><rect x="160.30" y="494.0" width="2.6" height="2.0" fill="#0d9045"/><rect x="163.90" y="494.0" width="2.6" height="2.2" fill="#d53c1d"/><rect x="167.50" y="496.2" width="2.6" height="3.2" fill="#d53c1d"/><rect x="171.10" y="499.5" width="2.6" height="1.0" fill="#d53c1d"/><rect x="174.70" y="498.5" width="2.6" height="1.5" fill="#0d9045"/><rect x="178.30" y="498.5" width="2.6" height="1.0" fill="#d53c1d"/><rect x="181.90" y="499.0" width="2.6" height="2.5" fill="#d53c1d"/><rect x="185.50" y="501.5" width="2.6" height="3.5" fill="#d53c1d"/><rect x="189.10" y="505.0" width="2.6" height="4.0" fill="#d53c1d"/><rect x="192.70" y="507.0" width="2.6" height="2.0" fill="#0d9045"/><rect x="196.30" y="504.0" width="2.6" height="3.0" fill="#0d9045"/><rect x="199.90" y="503.0" width="2.6" height="1.0" fill="#0d9045"/><rect x="203.50" y="502.0" width="2.6" height="1.0" fill="#0d9045"/><rect x="207.10" y="502.0" width="2.6" height="1.0" fill="#d53c1d"/><rect x="210.70" y="501.0" width="2.6" height="1.0" fill="#0d9045"/><rect x="214.30" y="499.0" width="2.6" height="2.0" fill="#0d9045"/><rect x="217.90" y="494.4" width="2.6" height="1.2" fill="#0d9045"/><rect x="221.50" y="494.4" width="2.6" height="1.6" fill="#d53c1d"/><rect x="225.10" y="495.5" width="2.6" height="1.0" fill="#0d9045"/><rect x="228.70" y="495.5" width="2.6" height="1.0" fill="#d53c1d"/><rect x="232.30" y="494.0" width="2.6" height="2.0" fill="#0d9045"/><rect x="235.90" y="490.4" width="2.6" height="3.6" fill="#0d9045"/><rect x="239.50" y="489.6" width="2.6" height="2.6" fill="#d53c1d"/><rect x="243.10" y="488.5" width="2.6" height="4.2" fill="#0d9045"/><rect x="246.70" y="487.1" width="2.6" height="1.4" fill="#0d9045"/><rect x="250.30" y="483.1" width="2.6" height="4.0" fill="#0d9045"/><rect x="253.90" y="483.1" width="2.6" height="1.0" fill="#d53c1d"/><rect x="257.50" y="480.2" width="2.6" height="3.1" fill="#0d9045"/><rect x="261.10" y="475.0" width="2.6" height="5.2" fill="#0d9045"/><rect x="264.70" y="474.0" width="2.6" height="1.6" fill="#d53c1d"/><rect x="268.30" y="475.6" width="2.6" height="1.5" fill="#d53c1d"/><rect x="271.90" y="477.1" width="2.6" height="1.6" fill="#d53c1d"/><rect x="275.50" y="478.8" width="2.6" height="5.2" fill="#d53c1d"/><rect x="279.10" y="483.5" width="2.6" height="1.0" fill="#0d9045"/><rect x="282.70" y="476.5" width="2.6" height="7.0" fill="#0d9045"/><rect x="286.30" y="472.6" width="2.6" height="3.9" fill="#0d9045"/><rect x="289.90" y="471.9" width="2.6" height="1.0" fill="#0d9045"/><rect x="293.50" y="471.9" width="2.6" height="4.4" fill="#d53c1d"/><rect x="297.10" y="475.0" width="2.6" height="1.2" fill="#0d9045"/><rect x="300.70" y="471.0" width="2.6" height="4.0" fill="#0d9045"/><rect x="304.30" y="468.8" width="2.6" height="2.2" fill="#0d9045"/><rect x="307.90" y="466.2" width="2.6" height="2.5" fill="#0d9045"/><rect x="311.50" y="466.2" width="2.6" height="1.0" fill="#d53c1d"/><rect x="315.10" y="459.4" width="2.6" height="7.5" fill="#0d9045"/><rect x="318.70" y="458.5" width="2.6" height="1.0" fill="#0d9045"/><rect x="322.30" y="458.5" width="2.6" height="3.4" fill="#d53c1d"/><rect x="325.90" y="461.9" width="2.6" height="2.9" fill="#d53c1d"/><rect x="329.50" y="456.2" width="2.6" height="8.5" fill="#0d9045"/><rect x="333.10" y="453.8" width="2.6" height="2.5" fill="#0d9045"/><rect x="336.70" y="451.2" width="2.6" height="2.5" fill="#0d9045"/><rect x="340.30" y="451.2" width="2.6" height="5.0" fill="#d53c1d"/><rect x="343.90" y="453.8" width="2.6" height="2.5" fill="#0d9045"/><rect x="347.50" y="449.4" width="2.6" height="4.4" fill="#0d9045"/><rect x="351.10" y="440.6" width="2.6" height="8.8" fill="#0d9045"/><rect x="354.70" y="440.0" width="2.6" height="8.8" fill="#d53c1d"/><rect x="358.30" y="448.4" width="2.6" height="17.9" fill="#d53c1d"/><rect x="361.90" y="466.2" width="2.6" height="3.1" fill="#d53c1d"/><rect x="365.50" y="467.8" width="2.6" height="1.6" fill="#0d9045"/><rect x="369.10" y="467.5" width="2.6" height="1.0" fill="#0d9045"/><rect x="372.70" y="467.5" width="2.6" height="1.0" fill="#d53c1d"/><rect x="376.30" y="464.4" width="2.6" height="3.6" fill="#0d9045"/><rect x="379.90" y="464.4" width="2.6" height="2.5" fill="#d53c1d"/><rect x="383.50" y="466.9" width="2.6" height="1.0" fill="#d53c1d"/><rect x="387.10" y="456.5" width="2.6" height="10.8" fill="#0d9045"/><rect x="390.70" y="453.1" width="2.6" height="3.4" fill="#0d9045"/><rect x="394.30" y="453.1" width="2.6" height="4.4" fill="#d53c1d"/><rect x="397.90" y="457.5" width="2.6" height="6.0" fill="#d53c1d"/><rect x="401.50" y="452.8" width="2.6" height="10.8" fill="#0d9045"/><rect x="405.10" y="452.8" width="2.6" height="1.0" fill="#d53c1d"/><rect x="408.70" y="452.2" width="2.6" height="1.0" fill="#0d9045"/><rect x="412.30" y="452.2" width="2.6" height="7.9" fill="#d53c1d"/><rect x="415.90" y="449.8" width="2.6" height="10.4" fill="#0d9045"/><rect x="419.50" y="449.8" width="2.6" height="1.0" fill="#d53c1d"/><rect x="423.10" y="448.1" width="2.6" height="2.5" fill="#0d9045"/><rect x="426.70" y="445.2" width="2.6" height="2.9" fill="#0d9045"/><rect x="430.30" y="442.5" width="2.6" height="2.8" fill="#0d9045"/><rect x="433.90" y="441.5" width="2.6" height="1.0" fill="#0d9045"/><rect x="437.50" y="441.5" width="2.6" height="2.5" fill="#d53c1d"/><rect x="441.10" y="440.6" width="2.6" height="3.4" fill="#0d9045"/><rect x="444.70" y="440.6" width="2.6" height="9.1" fill="#d53c1d"/><rect x="448.30" y="446.0" width="2.6" height="3.8" fill="#0d9045"/><rect x="451.90" y="439.4" width="2.6" height="1.9" fill="#0d9045"/><rect x="455.50" y="434.8" width="2.6" height="4.2" fill="#0d9045"/><rect x="459.10" y="434.0" width="2.6" height="8.8" fill="#d53c1d"/><rect x="462.70" y="442.8" width="2.6" height="1.0" fill="#0d9045"/><rect x="466.30" y="443.8" width="2.6" height="10.0" fill="#d53c1d"/><rect x="469.90" y="444.4" width="2.6" height="9.1" fill="#0d9045"/><rect x="473.50" y="437.5" width="2.6" height="6.9" fill="#0d9045"/><rect x="477.10" y="438.1" width="2.6" height="1.5" fill="#d53c1d"/><rect x="480.70" y="438.8" width="2.6" height="3.5" fill="#d53c1d"/><rect x="484.30" y="442.0" width="2.6" height="1.0" fill="#d53c1d"/><rect x="487.90" y="437.9" width="2.6" height="4.1" fill="#0d9045"/><rect x="491.50" y="437.9" width="2.6" height="1.0" fill="#0d9045"/><rect x="495.10" y="437.9" width="2.6" height="1.0" fill="#d53c1d"/><rect x="498.70" y="438.0" width="2.6" height="1.0" fill="#d53c1d"/><rect x="502.30" y="436.9" width="2.6" height="2.9" fill="#d53c1d"/><rect x="505.90" y="439.0" width="2.6" height="1.0" fill="#d53c1d"/><rect x="509.50" y="437.5" width="2.6" height="3.1" fill="#0d9045"/><rect x="513.10" y="431.5" width="2.6" height="6.0" fill="#0d9045"/><rect x="516.70" y="431.5" width="2.6" height="1.0" fill="#0d9045"/><rect x="520.30" y="420.4" width="2.6" height="11.1" fill="#0d9045"/><rect x="523.90" y="405.0" width="2.6" height="14.4" fill="#0d9045"/><rect x="527.50" y="405.0" width="2.6" height="13.5" fill="#d53c1d"/><rect x="531.10" y="413.8" width="2.6" height="5.0" fill="#0d9045"/><rect x="534.70" y="413.8" width="2.6" height="1.0" fill="#0d9045"/><rect x="538.30" y="404.0" width="2.6" height="7.2" fill="#0d9045"/><rect x="541.90" y="402.5" width="2.6" height="1.5" fill="#0d9045"/><rect x="545.50" y="365.9" width="2.6" height="35.4" fill="#0d9045"/><rect x="549.10" y="211.2" width="2.6" height="147.0" fill="#0d9045"/><rect x="552.70" y="211.2" width="2.6" height="90.0" fill="#d53c1d"/><rect x="556.30" y="312.8" width="2.6" height="32.6" fill="#0d9045"/><rect x="559.90" y="331.4" width="2.6" height="1.0" fill="#0d9045"/><rect x="563.50" y="323.3" width="2.6" height="1.0" fill="#d53c1d"/><rect x="567.10" y="330.0" width="2.6" height="1.0" fill="#0d9045"/><rect x="570.70" y="324.4" width="2.6" height="7.6" fill="#d53c1d"/><rect x="574.30" y="334.9" width="2.6" height="7.5" fill="#d53c1d"/><rect x="577.90" y="331.4" width="2.6" height="24.5" fill="#d53c1d"/><rect x="581.50" y="355.9" width="2.6" height="23.1" fill="#d53c1d"/><rect x="585.10" y="373.3" width="2.6" height="5.4" fill="#0d9045"/><rect x="588.70" y="370.5" width="2.6" height="5.2" fill="#0d9045"/><rect x="592.30" y="365.2" width="2.6" height="6.5" fill="#d53c1d"/><rect x="595.90" y="368.0" width="2.6" height="11.0" fill="#d53c1d"/><rect x="599.50" y="381.0" width="2.6" height="11.0" fill="#d53c1d"/><rect x="603.10" y="393.8" width="2.6" height="23.7" fill="#d53c1d"/><rect x="606.70" y="414.0" width="2.6" height="8.2" fill="#d53c1d"/><rect x="610.30" y="421.7" width="2.6" height="2.8" fill="#d53c1d"/><rect x="613.90" y="426.9" width="2.6" height="15.1" fill="#d53c1d"/><rect x="617.50" y="420.3" width="2.6" height="18.9" fill="#0d9045"/><rect x="621.10" y="408.2" width="2.6" height="11.7" fill="#0d9045"/><rect x="624.70" y="408.2" width="2.6" height="11.7" fill="#d53c1d"/><rect x="628.30" y="413.4" width="2.6" height="7.6" fill="#0d9045"/><rect x="631.90" y="415.7" width="2.6" height="3.0" fill="#d53c1d"/><rect x="635.50" y="418.7" width="2.6" height="5.8" fill="#d53c1d"/><rect x="639.10" y="428.5" width="2.6" height="5.3" fill="#d53c1d"/><rect x="642.70" y="413.4" width="2.6" height="17.0" fill="#0d9045"/><rect x="646.30" y="403.6" width="2.6" height="9.3" fill="#0d9045"/><rect x="649.90" y="405.9" width="2.6" height="3.5" fill="#d53c1d"/><rect x="653.50" y="411.7" width="2.6" height="16.8" fill="#d53c1d"/><rect x="657.10" y="416.8" width="2.6" height="11.7" fill="#0d9045"/><rect x="660.70" y="420.8" width="2.6" height="2.4" fill="#d53c1d"/><rect x="664.30" y="422.3" width="2.6" height="1.0" fill="#0d9045"/><rect x="667.90" y="420.4" width="2.6" height="1.9" fill="#0d9045"/><rect x="671.50" y="407.1" width="2.6" height="16.1" fill="#0d9045"/><rect x="675.10" y="381.6" width="2.6" height="27.4" fill="#0d9045"/><rect x="678.70" y="387.2" width="2.6" height="7.0" fill="#d53c1d"/><rect x="682.30" y="394.2" width="2.6" height="1.0" fill="#0d9045"/><rect x="685.90" y="366.0" width="2.6" height="29.8" fill="#0d9045"/><rect x="689.50" y="361.3" width="2.6" height="8.3" fill="#0d9045"/><rect x="693.10" y="364.5" width="2.6" height="6.3" fill="#d53c1d"/><rect x="696.70" y="360.2" width="2.6" height="10.6" fill="#0d9045"/><rect x="700.30" y="354.1" width="2.6" height="2.3" fill="#d53c1d"/><rect x="703.90" y="356.9" width="2.6" height="15.2" fill="#d53c1d"/><rect x="707.50" y="369.6" width="2.6" height="12.9" fill="#d53c1d"/><rect x="711.10" y="367.0" width="2.6" height="15.1" fill="#0d9045"/><rect x="714.70" y="366.0" width="2.6" height="2.9" fill="#0d9045"/><rect x="718.30" y="362.0" width="2.6" height="6.3" fill="#d53c1d"/><rect x="721.90" y="369.6" width="2.6" height="5.3" fill="#d53c1d"/><rect x="725.50" y="379.7" width="2.6" height="10.8" fill="#d53c1d"/><rect x="729.10" y="389.1" width="2.6" height="12.0" fill="#d53c1d"/><rect x="732.70" y="401.0" width="2.6" height="1.0" fill="#0d9045"/><rect x="736.30" y="401.4" width="2.6" height="14.8" fill="#d53c1d"/><rect x="739.90" y="410.5" width="2.6" height="4.2" fill="#0d9045"/><rect x="743.50" y="410.5" width="2.6" height="1.0" fill="#0d9045"/><rect x="747.10" y="407.1" width="2.6" height="1.0" fill="#0d9045"/><rect x="750.70" y="407.1" width="2.6" height="8.2" fill="#d53c1d"/><rect x="754.30" y="404.3" width="2.6" height="9.8" fill="#0d9045"/><rect x="757.90" y="401.4" width="2.6" height="1.0" fill="#d53c1d"/><rect x="761.50" y="398.6" width="2.6" height="4.7" fill="#d53c1d"/><rect x="765.10" y="402.4" width="2.6" height="1.0" fill="#0d9045"/><rect x="768.70" y="399.9" width="2.6" height="19.9" fill="#d53c1d"/><rect x="772.30" y="419.4" width="2.6" height="8.0" fill="#d53c1d"/><rect x="775.90" y="427.4" width="2.6" height="1.0" fill="#d53c1d"/><rect x="779.50" y="427.6" width="2.6" height="1.0" fill="#0d9045"/><rect x="783.10" y="428.6" width="2.6" height="1.0" fill="#0d9045"/><rect x="786.70" y="413.3" width="2.6" height="15.7" fill="#0d9045"/><rect x="790.30" y="414.7" width="2.6" height="11.5" fill="#d53c1d"/><rect x="793.90" y="425.1" width="2.6" height="8.3" fill="#d53c1d"/><rect x="797.50" y="431.3" width="2.6" height="2.8" fill="#0d9045"/><rect x="801.10" y="424.8" width="2.6" height="6.5" fill="#0d9045"/><rect x="804.70" y="425.1" width="2.6" height="6.2" fill="#d53c1d"/><rect x="808.30" y="417.9" width="2.6" height="12.7" fill="#0d9045"/><rect x="811.90" y="418.9" width="2.6" height="7.6" fill="#d53c1d"/><rect x="815.50" y="426.5" width="2.6" height="9.4" fill="#d53c1d"/><rect x="819.10" y="435.9" width="2.6" height="1.0" fill="#d53c1d"/><rect x="822.70" y="431.3" width="2.6" height="5.2" fill="#0d9045"/><rect x="826.30" y="429.0" width="2.6" height="2.3" fill="#0d9045"/><rect x="829.90" y="430.0" width="2.6" height="7.3" fill="#d53c1d"/><rect x="833.50" y="437.3" width="2.6" height="1.0" fill="#d53c1d"/><rect x="837.10" y="438.3" width="2.6" height="4.1" fill="#d53c1d"/><rect x="840.70" y="443.1" width="2.6" height="5.2" fill="#d53c1d"/><rect x="844.30" y="448.3" width="2.6" height="1.0" fill="#d53c1d"/><rect x="847.90" y="448.6" width="2.6" height="1.0" fill="#d53c1d"/><rect x="851.50" y="448.3" width="2.6" height="1.0" fill="#d53c1d"/><rect x="855.10" y="448.6" width="2.6" height="1.4" fill="#d53c1d"/><rect x="858.70" y="450.0" width="2.6" height="1.1" fill="#d53c1d"/><rect x="862.30" y="451.4" width="2.6" height="8.3" fill="#d53c1d"/><rect x="865.90" y="460.4" width="2.6" height="1.4" fill="#d53c1d"/><rect x="869.50" y="461.1" width="2.6" height="7.6" fill="#d53c1d"/><rect x="873.10" y="461.3" width="2.6" height="7.7" fill="#0d9045"/><rect x="876.70" y="461.3" width="2.6" height="1.4" fill="#d53c1d"/><rect x="880.30" y="460.8" width="2.6" height="2.3" fill="#0d9045"/><rect x="883.90" y="460.8" width="2.6" height="3.7" fill="#d53c1d"/><rect x="887.50" y="464.5" width="2.6" height="1.0" fill="#d53c1d"/><rect x="891.10" y="464.9" width="2.6" height="1.0" fill="#d53c1d"/><rect x="894.70" y="465.9" width="2.6" height="1.0" fill="#0d9045"/><rect x="898.30" y="467.7" width="2.6" height="1.7" fill="#d53c1d"/><rect x="901.90" y="463.7" width="2.6" height="5.0" fill="#0d9045"/><rect x="905.50" y="465.5" width="2.6" height="1.9" fill="#d53c1d"/><rect x="909.10" y="468.0" width="2.6" height="2.0" fill="#d53c1d"/><rect x="912.70" y="466.7" width="2.6" height="3.6" fill="#0d9045"/><rect x="916.30" y="457.7" width="2.6" height="9.1" fill="#0d9045"/><rect x="919.90" y="457.1" width="2.6" height="1.0" fill="#0d9045"/><rect x="923.50" y="454.0" width="2.6" height="2.3" fill="#0d9045"/><rect x="927.10" y="454.0" width="2.6" height="1.0" fill="#0d9045"/><rect x="930.70" y="453.1" width="2.6" height="6.9" fill="#d53c1d"/><rect x="934.30" y="461.0" width="2.6" height="3.1" fill="#d53c1d"/><rect x="937.90" y="455.6" width="2.6" height="7.4" fill="#0d9045"/><rect x="941.50" y="455.6" width="2.6" height="1.0" fill="#0d9045"/><rect x="945.10" y="443.2" width="2.6" height="7.0" fill="#0d9045"/><rect x="948.70" y="443.2" width="2.6" height="1.7" fill="#d53c1d"/><rect x="952.30" y="444.3" width="2.6" height="1.0" fill="#0d9045"/><rect x="955.90" y="443.8" width="2.6" height="1.7" fill="#d53c1d"/><rect x="959.50" y="428.6" width="2.6" height="16.3" fill="#0d9045"/><rect x="963.10" y="429.2" width="2.6" height="6.2" fill="#d53c1d"/><rect x="966.70" y="434.4" width="2.6" height="5.6" fill="#d53c1d"/><rect x="970.30" y="440.0" width="2.6" height="9.3" fill="#d53c1d"/></g>
</g>
<g clip-path="url(#cv)">
<rect x="218.05" y="642.8" width="2.3" height="3.5" fill="#10ad4e"/>
<rect x="455.65" y="554.9" width="2.3" height="91.4" fill="#10ad4e"/>
<rect x="459.25" y="545.0" width="2.3" height="101.3" fill="#f04e2e"/>
<rect x="462.85" y="570.4" width="2.3" height="75.9" fill="#10ad4e"/>
<rect x="466.45" y="569.3" width="2.3" height="77.0" fill="#f04e2e"/>
<rect x="470.05" y="578.2" width="2.3" height="68.1" fill="#10ad4e"/>
<rect x="473.65" y="559.8" width="2.3" height="86.5" fill="#10ad4e"/>
<rect x="477.25" y="522.2" width="2.3" height="124.1" fill="#f04e2e"/>
<rect x="480.85" y="548.8" width="2.3" height="97.5" fill="#f04e2e"/>
<rect x="484.45" y="572.9" width="2.3" height="73.4" fill="#f04e2e"/>
<rect x="488.05" y="580.9" width="2.3" height="65.4" fill="#10ad4e"/>
<rect x="491.65" y="568.9" width="2.3" height="77.4" fill="#10ad4e"/>
<rect x="495.25" y="549.9" width="2.3" height="96.4" fill="#f04e2e"/>
<rect x="498.85" y="567.8" width="2.3" height="78.5" fill="#f04e2e"/>
<rect x="502.45" y="579.4" width="2.3" height="66.9" fill="#f04e2e"/>
<rect x="506.05" y="578.2" width="2.3" height="68.1" fill="#f04e2e"/>
<rect x="509.65" y="600.5" width="2.3" height="45.8" fill="#10ad4e"/>
<rect x="513.25" y="596.1" width="2.3" height="50.2" fill="#10ad4e"/>
<rect x="516.85" y="562.5" width="2.3" height="83.8" fill="#10ad4e"/>
<rect x="520.45" y="563.0" width="2.3" height="83.3" fill="#10ad4e"/>
<rect x="524.05" y="614.0" width="2.3" height="32.3" fill="#10ad4e"/>
<rect x="527.65" y="618.2" width="2.3" height="28.1" fill="#f04e2e"/>
<rect x="531.25" y="631.5" width="2.3" height="14.8" fill="#10ad4e"/>
<rect x="534.85" y="628.4" width="2.3" height="17.9" fill="#10ad4e"/>
<rect x="538.45" y="632.2" width="2.3" height="14.1" fill="#10ad4e"/>
<rect x="542.05" y="595.7" width="2.3" height="50.6" fill="#10ad4e"/>
<rect x="545.65" y="604.5" width="2.3" height="41.8" fill="#10ad4e"/>
<rect x="552.85" y="645.5" width="2.3" height="0.8" fill="#f04e2e"/>
<rect x="556.45" y="641.7" width="2.3" height="4.6" fill="#10ad4e"/>
<rect x="560.05" y="642.6" width="2.3" height="3.7" fill="#10ad4e"/>
<rect x="563.65" y="643.0" width="2.3" height="3.3" fill="#f04e2e"/>
<rect x="570.85" y="643.7" width="2.3" height="2.6" fill="#f04e2e"/>
<rect x="574.45" y="642.6" width="2.3" height="3.7" fill="#f04e2e"/>
<rect x="578.05" y="640.2" width="2.3" height="6.1" fill="#f04e2e"/>
<rect x="581.65" y="636.5" width="2.3" height="9.8" fill="#f04e2e"/>
<rect x="585.25" y="640.6" width="2.3" height="5.7" fill="#10ad4e"/>
<rect x="588.85" y="640.0" width="2.3" height="6.3" fill="#10ad4e"/>
<rect x="592.45" y="640.2" width="2.3" height="6.1" fill="#f04e2e"/>
<rect x="596.05" y="642.6" width="2.3" height="3.7" fill="#f04e2e"/>
<rect x="599.65" y="642.0" width="2.3" height="4.3" fill="#f04e2e"/>
<rect x="603.25" y="639.2" width="2.3" height="7.1" fill="#f04e2e"/>
<rect x="606.85" y="641.6" width="2.3" height="4.7" fill="#f04e2e"/>
<rect x="610.45" y="639.2" width="2.3" height="7.1" fill="#f04e2e"/>
<rect x="617.65" y="642.6" width="2.3" height="3.7" fill="#10ad4e"/>
<rect x="621.25" y="634.5" width="2.3" height="11.8" fill="#10ad4e"/>
<rect x="624.85" y="643.2" width="2.3" height="3.1" fill="#f04e2e"/>
<rect x="628.45" y="643.0" width="2.3" height="3.3" fill="#10ad4e"/>
<rect x="635.65" y="637.5" width="2.3" height="8.8" fill="#f04e2e"/>
<rect x="639.25" y="638.2" width="2.3" height="8.1" fill="#f04e2e"/>
<rect x="642.85" y="643.7" width="2.3" height="2.6" fill="#10ad4e"/>
<rect x="646.45" y="641.6" width="2.3" height="4.7" fill="#10ad4e"/>
<rect x="650.05" y="637.1" width="2.3" height="9.2" fill="#f04e2e"/>
<rect x="653.65" y="634.5" width="2.3" height="11.8" fill="#f04e2e"/>
<rect x="657.25" y="642.2" width="2.3" height="4.1" fill="#10ad4e"/>
<rect x="660.85" y="642.0" width="2.3" height="4.3" fill="#10ad4e"/>
<rect x="664.45" y="644.1" width="2.3" height="2.2" fill="#10ad4e"/>
<rect x="668.05" y="637.1" width="2.3" height="9.2" fill="#10ad4e"/>
<rect x="671.65" y="635.9" width="2.3" height="10.4" fill="#10ad4e"/>
<rect x="675.25" y="640.0" width="2.3" height="6.3" fill="#10ad4e"/>
<rect x="678.85" y="642.0" width="2.3" height="4.3" fill="#f04e2e"/>
<rect x="682.45" y="645.3" width="2.3" height="1.0" fill="#10ad4e"/>
<rect x="686.05" y="638.2" width="2.3" height="8.1" fill="#10ad4e"/>
<rect x="689.65" y="631.8" width="2.3" height="14.5" fill="#10ad4e"/>
<rect x="696.85" y="644.7" width="2.3" height="1.6" fill="#10ad4e"/>
<rect x="700.45" y="637.9" width="2.3" height="8.4" fill="#f04e2e"/>
<rect x="707.65" y="640.0" width="2.3" height="6.3" fill="#f04e2e"/>
<rect x="711.25" y="640.6" width="2.3" height="5.7" fill="#10ad4e"/>
<rect x="714.85" y="642.6" width="2.3" height="3.7" fill="#10ad4e"/>
<rect x="718.45" y="643.2" width="2.3" height="3.1" fill="#f04e2e"/>
<rect x="722.05" y="643.0" width="2.3" height="3.3" fill="#f04e2e"/>
<rect x="725.65" y="643.2" width="2.3" height="3.1" fill="#f04e2e"/>
<rect x="729.25" y="633.1" width="2.3" height="13.2" fill="#f04e2e"/>
<rect x="732.85" y="630.4" width="2.3" height="15.9" fill="#10ad4e"/>
<rect x="736.45" y="639.6" width="2.3" height="6.7" fill="#f04e2e"/>
<rect x="740.05" y="642.6" width="2.3" height="3.7" fill="#10ad4e"/>
<rect x="743.65" y="641.6" width="2.3" height="4.7" fill="#10ad4e"/>
<rect x="747.25" y="636.5" width="2.3" height="9.8" fill="#10ad4e"/>
<rect x="750.85" y="641.6" width="2.3" height="4.7" fill="#f04e2e"/>
<rect x="754.45" y="643.0" width="2.3" height="3.3" fill="#10ad4e"/>
<rect x="758.05" y="640.6" width="2.3" height="5.7" fill="#f04e2e"/>
<rect x="761.65" y="640.6" width="2.3" height="5.7" fill="#f04e2e"/>
<rect x="765.25" y="640.2" width="2.3" height="6.1" fill="#10ad4e"/>
<rect x="768.85" y="634.5" width="2.3" height="11.8" fill="#f04e2e"/>
<rect x="772.45" y="640.6" width="2.3" height="5.7" fill="#f04e2e"/>
<rect x="776.05" y="635.5" width="2.3" height="10.8" fill="#f04e2e"/>
<rect x="779.65" y="620.2" width="2.3" height="26.1" fill="#10ad4e"/>
<rect x="783.25" y="640.6" width="2.3" height="5.7" fill="#10ad4e"/>
<rect x="786.85" y="638.6" width="2.3" height="7.7" fill="#10ad4e"/>
<rect x="790.45" y="643.2" width="2.3" height="3.1" fill="#f04e2e"/>
<rect x="794.05" y="633.5" width="2.3" height="12.8" fill="#f04e2e"/>
<rect x="797.65" y="641.2" width="2.3" height="5.1" fill="#10ad4e"/>
<rect x="801.25" y="639.6" width="2.3" height="6.7" fill="#10ad4e"/>
<rect x="804.85" y="641.0" width="2.3" height="5.3" fill="#f04e2e"/>
<rect x="808.45" y="641.6" width="2.3" height="4.7" fill="#10ad4e"/>
<rect x="812.05" y="634.5" width="2.3" height="11.8" fill="#f04e2e"/>
<rect x="815.65" y="640.0" width="2.3" height="6.3" fill="#f04e2e"/>
<rect x="819.25" y="640.6" width="2.3" height="5.7" fill="#f04e2e"/>
<rect x="822.85" y="641.2" width="2.3" height="5.1" fill="#10ad4e"/>
<rect x="826.45" y="640.0" width="2.3" height="6.3" fill="#10ad4e"/>
<rect x="830.05" y="639.0" width="2.3" height="7.3" fill="#f04e2e"/>
<rect x="833.65" y="637.9" width="2.3" height="8.4" fill="#f04e2e"/>
<rect x="837.25" y="637.1" width="2.3" height="9.2" fill="#f04e2e"/>
<rect x="840.85" y="634.5" width="2.3" height="11.8" fill="#f04e2e"/>
<rect x="844.45" y="642.2" width="2.3" height="4.1" fill="#f04e2e"/>
<rect x="848.05" y="640.0" width="2.3" height="6.3" fill="#f04e2e"/>
<rect x="851.65" y="642.2" width="2.3" height="4.1" fill="#f04e2e"/>
<rect x="855.25" y="635.5" width="2.3" height="10.8" fill="#f04e2e"/>
<rect x="858.85" y="628.0" width="2.3" height="18.3" fill="#f04e2e"/>
<rect x="862.45" y="641.6" width="2.3" height="4.7" fill="#f04e2e"/>
<rect x="866.05" y="639.2" width="2.3" height="7.1" fill="#f04e2e"/>
<rect x="869.65" y="639.6" width="2.3" height="6.7" fill="#f04e2e"/>
<rect x="873.25" y="635.5" width="2.3" height="10.8" fill="#10ad4e"/>
<rect x="876.85" y="636.9" width="2.3" height="9.4" fill="#f04e2e"/>
<rect x="880.45" y="637.5" width="2.3" height="8.8" fill="#10ad4e"/>
<rect x="884.05" y="640.0" width="2.3" height="6.3" fill="#f04e2e"/>
<rect x="887.65" y="634.9" width="2.3" height="11.4" fill="#f04e2e"/>
<rect x="891.25" y="633.5" width="2.3" height="12.8" fill="#f04e2e"/>
<rect x="894.85" y="633.5" width="2.3" height="12.8" fill="#10ad4e"/>
<rect x="898.45" y="640.0" width="2.3" height="6.3" fill="#f04e2e"/>
<rect x="902.05" y="630.4" width="2.3" height="15.9" fill="#10ad4e"/>
<rect x="905.65" y="630.4" width="2.3" height="15.9" fill="#f04e2e"/>
<rect x="909.25" y="640.2" width="2.3" height="6.1" fill="#f04e2e"/>
<rect x="912.85" y="638.2" width="2.3" height="8.1" fill="#10ad4e"/>
<rect x="916.45" y="626.3" width="2.3" height="20.0" fill="#10ad4e"/>
<rect x="920.05" y="631.4" width="2.3" height="14.9" fill="#10ad4e"/>
<rect x="923.65" y="636.9" width="2.3" height="9.4" fill="#10ad4e"/>
<rect x="927.25" y="633.5" width="2.3" height="12.8" fill="#10ad4e"/>
<rect x="930.85" y="637.1" width="2.3" height="9.2" fill="#f04e2e"/>
<rect x="934.45" y="634.9" width="2.3" height="11.4" fill="#f04e2e"/>
<rect x="938.05" y="633.5" width="2.3" height="12.8" fill="#10ad4e"/>
<rect x="941.65" y="630.0" width="2.3" height="16.3" fill="#10ad4e"/>
<rect x="945.25" y="629.0" width="2.3" height="17.3" fill="#10ad4e"/>
<rect x="948.85" y="637.5" width="2.3" height="8.8" fill="#f04e2e"/>
<rect x="952.45" y="639.6" width="2.3" height="6.7" fill="#10ad4e"/>
<rect x="956.05" y="637.5" width="2.3" height="8.8" fill="#f04e2e"/>
<rect x="959.65" y="632.4" width="2.3" height="13.9" fill="#10ad4e"/>
<rect x="963.25" y="641.0" width="2.3" height="5.3" fill="#f04e2e"/>
<rect x="966.85" y="619.2" width="2.3" height="27.1" fill="#f04e2e"/>
<rect x="970.45" y="571.9" width="2.3" height="74.4" fill="#f04e2e"/>
</g>
<text x="998" y="401.2" font-size="10.25" fill="#6a6a6a">25,000.00</text><text x="998" y="360.8" font-size="10.25" fill="#6a6a6a">30,000.00</text><text x="998" y="320.4" font-size="10.25" fill="#6a6a6a">35,000.00</text><text x="998" y="280.0" font-size="10.25" fill="#6a6a6a">40,000.00</text><text x="998" y="239.6" font-size="10.25" fill="#6a6a6a">45,000.00</text><text x="998" y="199.2" font-size="10.25" fill="#6a6a6a">50,000.00</text><text x="998" y="158.8" font-size="10.25" fill="#6a6a6a">55,000.00</text><text x="998" y="441.6" font-size="10" fill="#8a8a8a">20,000.00</text><text x="998" y="482.0" font-size="10" fill="#8a8a8a">15,000.00</text><text x="998" y="541.6" font-size="10" fill="#6a6a6a">10000</text><text x="998" y="595.6" font-size="10" fill="#6a6a6a">5000</text><text x="998" y="649.6" font-size="10" fill="#6a6a6a">0</text><defs><clipPath id="cx"><rect x="49" y="651" width="1000" height="30"/></clipPath></defs><g clip-path="url(#cx)"><rect x="63.5" y="651" width="1" height="4" fill="#cfcfcf"/><text x="64.3" y="666.7" font-size="10.4" fill="#6a6a6a" text-anchor="middle">Aug '19</text><rect x="125.5" y="651" width="1" height="4" fill="#cfcfcf"/><text x="125.7" y="666.7" font-size="10.4" fill="#6a6a6a" text-anchor="middle">Dec '19</text><rect x="190.5" y="651" width="1" height="4" fill="#cfcfcf"/><text x="190.7" y="666.7" font-size="10.4" fill="#6a6a6a" text-anchor="middle">Apr '20</text><rect x="251.5" y="651" width="1" height="4" fill="#cfcfcf"/><text x="251.7" y="666.7" font-size="10.4" fill="#6a6a6a" text-anchor="middle">Aug '20</text><rect x="315.5" y="651" width="1" height="4" fill="#cfcfcf"/><text x="316.0" y="666.7" font-size="10.4" fill="#6a6a6a" text-anchor="middle">Dec '20</text><rect x="376.5" y="651" width="1" height="4" fill="#cfcfcf"/><text x="377.3" y="666.7" font-size="10.4" fill="#6a6a6a" text-anchor="middle">Apr '21</text><rect x="437.5" y="651" width="1" height="4" fill="#cfcfcf"/><text x="438.3" y="666.7" font-size="10.4" fill="#6a6a6a" text-anchor="middle">Aug '21</text><rect x="502.5" y="651" width="1" height="4" fill="#cfcfcf"/><text x="503.3" y="666.7" font-size="10.4" fill="#6a6a6a" text-anchor="middle">Dec '21</text><rect x="564.5" y="651" width="1" height="4" fill="#cfcfcf"/><text x="564.7" y="666.7" font-size="10.4" fill="#6a6a6a" text-anchor="middle">Apr '22</text><rect x="625.5" y="651" width="1" height="4" fill="#cfcfcf"/><text x="625.7" y="666.7" font-size="10.4" fill="#6a6a6a" text-anchor="middle">Aug '22</text><rect x="689.5" y="651" width="1" height="4" fill="#cfcfcf"/><text x="690.0" y="666.7" font-size="10.4" fill="#6a6a6a" text-anchor="middle">Dec '22</text><rect x="751.5" y="651" width="1" height="4" fill="#cfcfcf"/><text x="751.5" y="666.7" font-size="10.4" fill="#6a6a6a" text-anchor="middle">Apr '23</text><rect x="815.5" y="651" width="1" height="4" fill="#cfcfcf"/><text x="816.3" y="666.7" font-size="10.4" fill="#6a6a6a" text-anchor="middle">Aug '23</text><rect x="877.5" y="651" width="1" height="4" fill="#cfcfcf"/><text x="877.7" y="666.7" font-size="10.4" fill="#6a6a6a" text-anchor="middle">Dec '23</text><rect x="938.5" y="651" width="1" height="4" fill="#cfcfcf"/><text x="939.0" y="666.7" font-size="10.4" fill="#6a6a6a" text-anchor="middle">Apr '24</text></g><path d="M988.3 444.9 L993 436.4 L1047.8 436.4 L1047.8 453.4 L993 453.4 Z" fill="#1f86e6"/><text x="997.5" y="448.5" font-size="10.25" font-weight="bold" fill="#fff"></text><path d="M988.3 425.4 L993 416.9 L1047.8 416.9 L1047.8 433.9 L993 433.9 Z" fill="#fb3448"/><text x="997.5" y="429.0" font-size="10.25" font-weight="bold" fill="#fff">21,500.00</text><path d="M988.3 449.8 L993 441.3 L1047.8 441.3 L1047.8 458.3 L993 458.3 Z" fill="#e8472b"/><text x="997.5" y="453.4" font-size="10.25" font-weight="bold" fill="#fff">18,531.00</text><path d="M988.3 470.8 L993 462.3 L1047.8 462.3 L1047.8 479.3 L993 479.3 Z" fill="#fb3448"/><text x="997.5" y="474.4" font-size="10.25" font-weight="bold" fill="#fff">15,900.00</text><path d="M988.3 571.0 L993 563.0 L1023.3 563.0 L1023.3 579.0 L993 579.0 Z" fill="#e8472b"/><text x="997.5" y="574.6" font-size="10.25" font-weight="bold" fill="#fff">6947</text><path d="M968 143.2 L971.2 146.4 L974.4 143.2" fill="none" stroke="#444" stroke-width="1.2"/><path d="M968 515.3 L971.2 512.1 L974.4 515.3" fill="none" stroke="#444" stroke-width="1.2"/><g opacity="0.66"><text x="52.3" y="490.4" font-size="26.5" font-weight="bold" fill="#8e8e8e" stroke="#8e8e8e" stroke-width="0.5" letter-spacing="-0.4">barchart</text></g>
</svg>
<!-- CHARTSVG-END -->
<!-- ICONS-START -->
<svg class="abs" style="left:0;top:0;" width="1080" height="687" viewBox="0 0 1080 687" font-family="Liberation Sans, sans-serif">
<!-- candle type icon -->
<g fill="none" stroke="#2a1030" stroke-width="1.2">
<rect x="124.6" y="74.6" width="4" height="6"/><path d="M126.6 72.2V74.6M126.6 80.6V82.8"/>
<rect x="131.4" y="77.4" width="4" height="6.2"/><path d="M133.4 75.3V77.4M133.4 83.6V85.8"/>
</g>
<path d="M139.6 78.6L143 82L146.4 78.6" fill="none" stroke="#111" stroke-width="2.1"/>
<!-- frequency / period chevrons -->
<path d="M527.5 106.6L531.1 110.2L534.7 106.6" fill="none" stroke="#111" stroke-width="2.1"/>
<path d="M577.8 106.6L581.4 110.2L585 106.6" fill="none" stroke="#111" stroke-width="2.1"/>
<!-- calendar icon -->
<g>
<rect x="642.6" y="104" width="12" height="10.4" rx="1.2" fill="#3573c4"/>
<rect x="643.7" y="107" width="9.8" height="6.4" fill="#dfe9f7"/>
<path d="M646.2 107V113.4M648.6 107V113.4M651 107V113.4M643.7 109.2H653.5M643.7 111.3H653.5" stroke="#3573c4" stroke-width="0.8" fill="none"/>
<rect x="644.8" y="102.2" width="2" height="3.4" rx="0.9" fill="#3573c4"/><rect x="650.4" y="102.2" width="2" height="3.4" rx="0.9" fill="#3573c4"/>
</g>
<!-- expand arrow -->
<path d="M1035 83.7L1040.6 78.6" stroke="#1d5aa8" stroke-width="1.7" fill="none"/>
<path d="M1038.2 76.9L1042.6 76.6L1042.2 81.2Z" fill="#1d5aa8" stroke="#1d5aa8" stroke-width="0.6"/>
<!-- tutorial film icon -->
<g fill="none" stroke="#2e6db5" stroke-width="1.1">
<rect x="968.4" y="106.6" width="11" height="9.8" rx="1"/>
<path d="M971 106.6V116.4M976.8 106.6V116.4M971 111.5H976.8"/>
<path d="M968.4 109H971M968.4 111.5H971M968.4 114H971M976.8 109H979.4M976.8 111.5H979.4M976.8 114H979.4" stroke-width="0.8"/>
</g>
<!-- hamburger -->
<g fill="#111"><rect x="1031.8" y="103.7" width="12.6" height="2.2"/><rect x="1031.8" y="107.6" width="12.6" height="2.2"/><rect x="1031.8" y="111.6" width="12.6" height="2.2"/></g>
<!-- notes icon -->
<g fill="none" stroke="#2e6db5" stroke-width="1.1">
<path d="M817.5 52.2V57.2H808.3V48H813.6"/>
<path d="M812.2 54.2L812.8 51.4L818.6 45.8L820.6 47.8L814.9 53.5Z"/>
</g>
<!-- my charts plus -->
<circle cx="888.2" cy="52.1" r="6.3" fill="#174a86"/>
<path d="M888.2 48.4V55.8M884.5 52.1H891.9" stroke="#fff" stroke-width="2"/>
<!-- alerts -->
<circle cx="939.7" cy="52.1" r="6.5" fill="#f9a723"/>
<path d="M939.7 48V53.4" stroke="#fff" stroke-width="2"/><circle cx="939.7" cy="55.9" r="1.1" fill="#fff"/>
<!-- star -->
<path d="M996.4 45.3L998.4 50L1003.5 50.4L999.6 53.8L1000.8 58.8L996.4 56.1L992 58.8L993.2 53.8L989.3 50.4L994.4 50Z" fill="none" stroke="#1d5aa8" stroke-width="1.3" stroke-linejoin="round"/>
<!-- help -->
<circle cx="1044.4" cy="52.3" r="5.9" fill="none" stroke="#174a86" stroke-width="1.4"/>
<text x="1044.4" y="56" font-size="10" font-weight="bold" fill="#174a86" text-anchor="middle">?</text>

<!-- main legend -->
<g id="eye"></g>
<defs>
<g id="eyei"><path d="M-5.8 0C-3.4 -4.6 3.4 -4.6 5.8 0C3.4 4.6 -3.4 4.6 -5.8 0Z" fill="#fff" stroke="#6a6a6a" stroke-width="1.2"/><circle cx="0" cy="0" r="2.7" fill="#6a6a6a"/><circle cx="-0.8" cy="-0.9" r="0.8" fill="#d0d0d0"/></g>
<g id="xi"><path d="M-3 -3L3 3M3 -3L-3 3" stroke="#606060" stroke-width="1.1" fill="none"/></g>
</defs>
<use href="#eyei" x="65" y="143.3"/>
<rect x="74.3" y="138.8" width="2.6" height="8.8" fill="#f0452c"/>
<text x="79.4" y="147" font-size="10.2" font-weight="bold" fill="#222" textLength="29.8">P8Y00</text>
<text x="109.6" y="147" font-size="10.2" fill="#999" textLength="27">-1Wn-</text>
<use href="#xi" x="155.6" y="143.3"/>
<use href="#eyei" x="172.2" y="143.3"/>
<rect x="180.8" y="138.8" width="2.6" height="8.8" fill="#1f86e6"/>
<text x="185.8" y="147" font-size="10.2" font-weight="bold" fill="#222" textLength="104.2">MAEXP (10, Close, 0)</text>
<use href="#xi" x="307.8" y="143.3"/>
<use href="#eyei" x="324.4" y="143.3"/>
<rect x="333.6" y="138.8" width="2.6" height="8.8" fill="#22c35a"/>
<text x="338.7" y="147" font-size="10.2" font-weight="bold" fill="#222" textLength="104.2">MAEXP (20, Close, 0)</text>
<use href="#xi" x="460.6" y="143.3"/>
<use href="#eyei" x="477.2" y="143.3"/>
<rect x="486.2" y="138.8" width="2.6" height="8.8" fill="#222"/>
<text x="491.4" y="147" font-size="10.2" font-weight="bold" fill="#222" textLength="104.2">MAEXP (50, Close, 0)</text>
<!-- volume legend -->
<use href="#xi" x="62.9" y="512.6"/>
<use href="#eyei" x="79.2" y="512.8"/>
<rect x="87.7" y="508.3" width="2.8" height="9.4" fill="#f0452c"/>
<text x="93" y="516.4" font-size="10.2" font-weight="bold" fill="#222" textLength="78.2">VOL (LikeMain)</text>

<!-- left tools -->
<g fill="none" stroke="#333" stroke-width="1">
<path d="M15.9 149.8H21.2M24.4 149.8H29.2"/><circle cx="22.8" cy="149.8" r="1.6"/>
<path d="M21 170H31M21 173.5H31M21 177H31M21 180.5H31"/><path d="M18.4 171L16.3 178.6"/><circle cx="18.8" cy="169.6" r="1.5"/><circle cx="15.9" cy="180" r="1.5"/>
<ellipse cx="22.7" cy="200.7" rx="7.1" ry="6.5"/>
<circle cx="22.7" cy="194.2" r="1.5" fill="#fff"/><circle cx="22.7" cy="207.2" r="1.5" fill="#fff"/><circle cx="15.6" cy="200.7" r="1.5" fill="#fff"/><circle cx="29.8" cy="200.7" r="1.5" fill="#fff"/>
<path d="M22.5 214L29.6 223.2H26V232.8H19V223.2H15.4Z" stroke-width="1.3" stroke-linejoin="round"/>
<circle cx="22.6" cy="250.4" r="7" stroke-width="1.2"/>
<path d="M16.8 268.6V280.4M28.2 271.6V283.8M16.8 275.3H27.4M24.8 272.8L27.4 275.3L24.8 277.8"/><circle cx="16.8" cy="282" r="1.5" fill="#fff"/><circle cx="28.2" cy="270" r="1.5" fill="#fff"/>
</g>
<text x="22.6" y="254" font-size="10" fill="#222" text-anchor="middle">0</text>
<g fill="none" stroke="#111" stroke-width="2.1">
<path d="M37.4 147.3L40.6 150.3L37.4 153.3"/>
<path d="M37.4 172.5L40.6 175.5L37.4 178.5"/>
<path d="M37.4 197.4L40.6 200.4L37.4 203.4"/>
<path d="M37.4 223L40.6 226L37.4 229"/>
<path d="M37.4 247.6L40.6 250.6L37.4 253.6"/>
<path d="M37.4 273.2L40.6 276.2L37.4 279.2"/>
</g>
<!-- magnet -->
<path d="M16 309.6V300.2A6.7 6.7 0 0 1 29.4 300.2V309.6H25.2V300.4A2.5 2.5 0 0 0 20.2 300.4V309.6Z" fill="none" stroke="#222" stroke-width="1.3" stroke-linejoin="round"/>
<path d="M16 306.2H20.2M25.2 306.2H29.4" stroke="#222" stroke-width="1.2"/>
<!-- unlock -->
<rect x="15.9" y="327" width="13.6" height="8" fill="none" stroke="#222" stroke-width="1.5"/>
<path d="M18.6 327V323.6A4 4 0 0 1 26.4 322.6" fill="none" stroke="#222" stroke-width="1.5"/>
<!-- undo -->
<path d="M17.6 348.4A6.3 6.3 0 1 1 17 354.8" fill="none" stroke="#111" stroke-width="1.8"/>
<path d="M15.6 344.4V349.8H21.2" fill="none" stroke="#111" stroke-width="1.8"/>
<!-- redo -->
<path d="M28 371.2A6.3 6.3 0 1 0 29.2 378.2" fill="none" stroke="#b5b5b5" stroke-width="1.5"/>
<path d="M30.6 367.8L30.2 373.4L24.8 371.8" fill="none" stroke="#b5b5b5" stroke-width="1.5"/>
</svg>
<!-- ICONS-END -->
</body>
</html>
